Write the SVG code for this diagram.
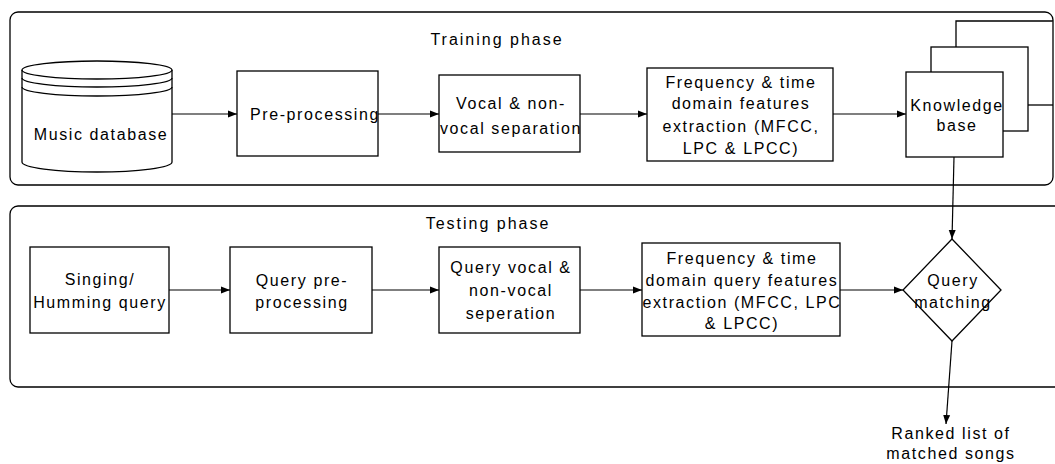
<svg xmlns="http://www.w3.org/2000/svg" width="1055" height="464" viewBox="0 0 1055 464">
<defs>
<style>
.s{fill:none;stroke:#000;stroke-width:1.3}
.b{fill:#fff;stroke:#000;stroke-width:1.3}
.t{font-family:"Liberation Sans",Arial,sans-serif;font-size:16px;letter-spacing:1.6px;fill:#000;text-anchor:middle}
.c{stroke:#000;stroke-width:1.2;fill:none;marker-end:url(#ah)}
</style>
<marker id="ah" markerWidth="10" markerHeight="8" refX="9" refY="4" orient="auto" markerUnits="userSpaceOnUse">
<path d="M0,0.5 L9,4 L0,7.5 Z" fill="#000"/>
</marker>
</defs>
<rect width="1055" height="464" fill="#fff"/>
<g id="training-phase">
<rect class="s" x="10" y="12" width="1043" height="173" rx="8"/>
<text class="t" x="497" y="45" style="letter-spacing:2px">Training phase</text>
</g>
<g id="testing-phase">
<rect class="s" x="10" y="206" width="1070" height="181" rx="8"/>
<text class="t" x="488" y="229" style="letter-spacing:2px">Testing phase</text>
</g>
<g id="music-database">
<path class="b" d="M22,70 A75,9 0 0 1 172,70 L172,162 A75,10 0 0 1 22,162 Z"/>
<path class="s" d="M22,70 A75,9 0 0 0 172,70"/>
<path class="s" d="M22,78 A75,9 0 0 0 172,78"/>
<path class="s" d="M22,87 A75,9 0 0 0 172,87"/>
<text class="t" x="101" y="140">Music database</text>
</g>
<g id="pre-processing">
<rect class="b" x="237" y="71" width="141" height="85"/>
<text class="t" x="315" y="120">Pre-processing</text>
</g>
<g id="vocal-separation">
<rect class="b" x="439" y="75" width="141" height="77"/>
<text class="t" x="511" y="109">Vocal &amp; non-</text>
<text class="t" x="511" y="134">vocal separation</text>
</g>
<g id="features-extraction">
<rect class="b" x="647" y="68" width="186" height="93"/>
<text class="t" x="741" y="88">Frequency &amp; time</text>
<text class="t" x="741" y="109">domain features</text>
<text class="t" x="741" y="132">extraction (MFCC,</text>
<text class="t" x="741" y="154">LPC &amp; LPCC)</text>
</g>
<g id="knowledge-base">
<path class="b" d="M956,105 L956,21 L1053,21"/>
<rect class="b" x="931" y="47" width="97" height="84"/>
<path class="s" d="M1028,105 L1053,105"/>
<rect class="b" x="906" y="72" width="97" height="85"/>
<text class="t" x="957" y="111">Knowledge</text>
<text class="t" x="957" y="131">base</text>
</g>
<g id="singing-query">
<rect class="b" x="30" y="247" width="139" height="86"/>
<text class="t" x="100" y="285">Singing/</text>
<text class="t" x="100" y="308">Humming query</text>
</g>
<g id="query-pre-processing">
<rect class="b" x="230" y="247" width="142" height="86"/>
<text class="t" x="302" y="286">Query pre-</text>
<text class="t" x="302" y="308">processing</text>
</g>
<g id="query-vocal-separation">
<rect class="b" x="439" y="247" width="141" height="86"/>
<text class="t" x="511" y="273">Query vocal &amp;</text>
<text class="t" x="511" y="296">non-vocal</text>
<text class="t" x="511" y="319">seperation</text>
</g>
<g id="query-features-extraction">
<rect class="b" x="642" y="243" width="198" height="93"/>
<text class="t" x="742" y="264">Frequency &amp; time</text>
<text class="t" x="742" y="286">domain query features</text>
<text class="t" x="742" y="308">extraction (MFCC, LPC</text>
<text class="t" x="742" y="329">&amp; LPCC)</text>
</g>
<g id="query-matching">
<path class="b" d="M952,239 L1001,290 L952,341 L903,290 Z"/>
<text class="t" x="953" y="286">Query</text>
<text class="t" x="953" y="308">matching</text>
</g>
<g id="ranked-list">
<text class="t" x="951" y="439">Ranked list of</text>
<text class="t" x="951" y="459">matched songs</text>
</g>
<g id="connectors">
<line class="c" x1="172" y1="114" x2="237" y2="114"/>
<line class="c" x1="378" y1="114" x2="439" y2="114"/>
<line class="c" x1="580" y1="114" x2="647" y2="114"/>
<line class="c" x1="833" y1="114" x2="906" y2="114"/>
<line class="c" x1="954" y1="157" x2="952" y2="239"/>
<line class="c" x1="169" y1="290" x2="230" y2="290"/>
<line class="c" x1="372" y1="290" x2="439" y2="290"/>
<line class="c" x1="580" y1="290" x2="642" y2="290"/>
<line class="c" x1="840" y1="290" x2="903" y2="290"/>
<line class="c" x1="952" y1="341" x2="946" y2="424"/>
</g>
</svg>
